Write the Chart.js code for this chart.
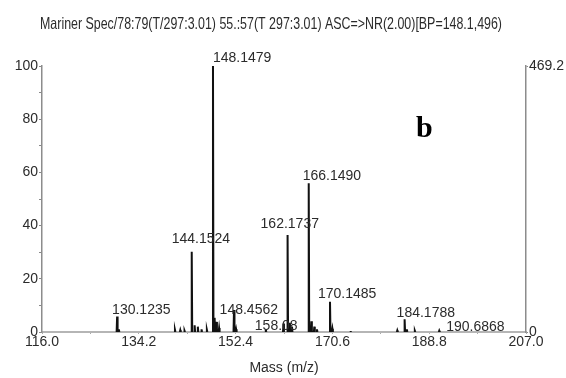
<!DOCTYPE html>
<html>
<head>
<meta charset="utf-8">
<script src="https://cdn.jsdelivr.net/npm/chart.js@4/dist/chart.umd.min.js"></script>
<style>
  html, body { margin: 0; padding: 0; background: #fff; }
  #wrap { width: 566px; height: 378px; }
</style>
</head>
<body>
<div id="wrap"><canvas id="spec" width="566" height="378"></canvas></div>
<script>
const titleText = 'Mariner Spec/78:79(T/297:3.01) 55.:57(T 297:3.01) ASC=>NR(2.00)[BP=148.1,496)';
const panelTag = 'b';

// peak centroids (m/z) and relative intensity (%)
const peakMz = [130.1235, 130.45, 141.0, 142.0, 142.8, 144.1524, 144.7, 145.3, 146.0, 147.0,
                148.1479, 148.4562, 148.8, 149.3, 152.1, 152.5, 158.08, 161.4, 162.1737, 162.6,
                163.0, 166.149, 166.65, 167.2, 167.7, 170.1485, 170.6, 174.0, 182.8, 184.1788,
                184.6, 186.1, 190.6868];
const peakInt = [5.8, 1.0, 0.8, 0.7, 0.5, 30.2, 2.5, 2.0, 1.0, 0.8,
                 100, 5.3, 3.8, 1.5, 8.3, 1.0, 1.0, 3.2, 36.5, 3.5,
                 2.0, 55.9, 4.0, 2.0, 1.0, 11.4, 1.2, 0.4, 0.6, 4.8,
                 1.0, 0.5, 0.5];

// annotated peaks
const labelMz = [130.1235, 144.1524, 148.1479, 148.4562, 158.08, 162.1737, 166.149, 170.1485, 184.1788, 190.6868];
const labelText = ['130.1235', '144.1524', '148.1479', '148.4562', '158.08', '162.1737', '166.1490', '170.1485', '184.1788', '190.6868'];
// label nudges: left edge relative to peak, gap above peak top (px)
const labelDx = [-5, -20, 0, 5, -11, -27, -6, -12, -8, 7];
const labelGap = [3, 9, 4, 4, -1, 7, 3, 4, 2, 0];

const massTicks = [116.0, 125.1, 134.2, 143.3, 152.4, 161.5, 170.6, 179.7, 188.8, 197.9, 207.0];
const relTicks = [0, 10, 20, 30, 40, 50, 60, 70, 80, 90, 100];
const absTicks = [0, 469.2];

const HALF = 0.09;
const trace = [];
peakMz.forEach((mz, i) => {
  trace.push({ x: mz - HALF, y: 0 }, { x: mz, y: peakInt[i] }, { x: mz + HALF, y: 0 }, { x: mz + HALF + 0.01, y: null });
});

const txt = '#2b2b2b';
const tickFont = { family: 'Liberation Sans', size: 14 };

// heading is squeezed into a fixed width, the acquisition software prints it condensed
const header = {
  id: 'header',
  afterDraw(chart) {
    const ctx = chart.ctx;
    ctx.save();
    ctx.font = '16.5px "Liberation Sans"';
    ctx.fillStyle = txt;
    ctx.textBaseline = 'middle';
    const w = ctx.measureText(titleText).width;
    ctx.translate(40, 24);
    ctx.scale(462 / w, 1);
    ctx.fillText(titleText, 0, 0);
    ctx.restore();
  }
};

const peakLabels = {
  id: 'peakLabels',
  afterDatasetsDraw(chart) {
    const { ctx, scales } = chart;
    ctx.save();
    ctx.font = '14px "Liberation Sans"';
    ctx.fillStyle = txt;
    ctx.textAlign = 'left';
    ctx.textBaseline = 'alphabetic';
    labelMz.forEach((mz, i) => {
      const h = peakInt[peakMz.indexOf(mz)];
      const px = scales.x.getPixelForValue(mz);
      const py = scales.y.getPixelForValue(h);
      ctx.fillText(labelText[i], px + labelDx[i], py - labelGap[i]);
    });
    ctx.font = 'bold 30px "Liberation Serif"';
    ctx.fillStyle = '#000';
    ctx.fillText(panelTag, 416, 137);
    ctx.restore();
  }
};

new Chart(document.getElementById('spec'), {
  type: 'line',
  data: {
    datasets: [{
      data: trace,
      borderColor: '#111',
      borderWidth: 2,
      pointRadius: 0,
      tension: 0,
      spanGaps: false,
      fill: false
    }]
  },
  options: {
    responsive: false,
    animation: false,
    layout: { padding: { top: 66, left: 0, right: 0, bottom: 0 } },
    plugins: {
      legend: { display: false },
      tooltip: { enabled: false },
      title: { display: false }
    },
    scales: {
      x: {
        type: 'linear',
        min: 116,
        max: 207,
        afterBuildTicks: s => { s.ticks = massTicks.map(v => ({ value: v })); },
        afterFit: s => { s.height = 46; },
        ticks: {
          autoSkip: false,
          maxRotation: 0,
          padding: 0,
          color: txt,
          font: tickFont,
          callback: (v, i) => (i % 2 === 0 ? Number(v).toFixed(1) : '')
        },
        grid: { drawOnChartArea: false, tickLength: 2, color: '#aaa' },
        border: { color: '#b5b5b5', width: 2 },
        title: {
          display: true,
          text: 'Mass (m/z)',
          color: txt,
          font: { family: 'Liberation Sans', size: 14 },
          padding: { top: 0, bottom: 1 }
        }
      },
      y: {
        position: 'left',
        min: 0,
        max: 100,
        afterBuildTicks: s => { s.ticks = relTicks.map(v => ({ value: v })); },
        afterFit: s => { s.width = 42; },
        ticks: {
          padding: 1,
          color: txt,
          font: tickFont,
          callback: v => (v % 20 === 0 ? v : '')
        },
        grid: { drawOnChartArea: false, tickLength: 3, color: '#888' },
        border: { color: '#8c8c8c', width: 1.5 }
      },
      y2: {
        position: 'right',
        min: 0,
        max: 469.2,
        afterBuildTicks: s => { s.ticks = absTicks.map(v => ({ value: v })); },
        afterFit: s => { s.width = 40; },
        ticks: {
          padding: 1,
          color: txt,
          font: tickFont,
          callback: v => (v === 0 ? '0' : Number(v).toFixed(1))
        },
        grid: { drawOnChartArea: false, tickLength: 2, color: '#888' },
        border: { color: '#8c8c8c', width: 1.5 }
      }
    }
  },
  plugins: [peakLabels, header]
});
</script>
</body>
</html>
